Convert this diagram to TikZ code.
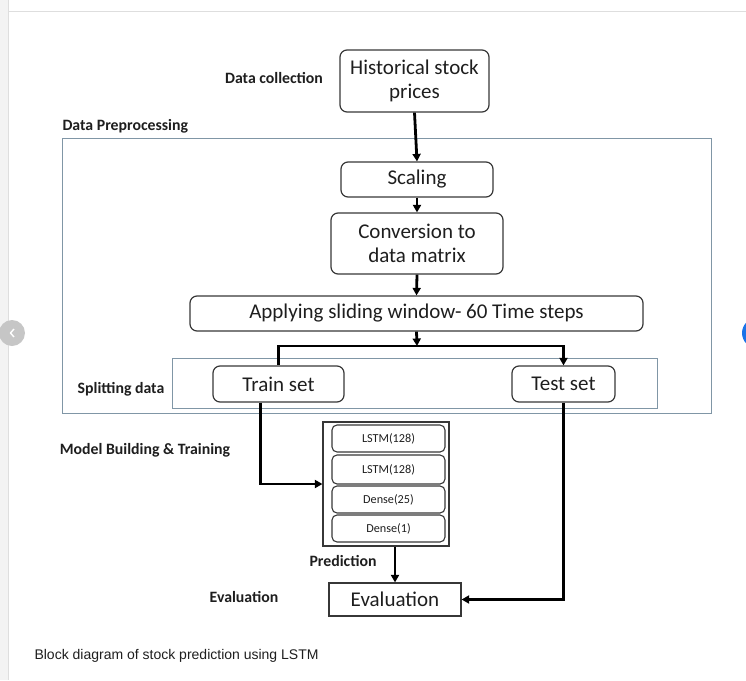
\documentclass[tikz,border=0pt]{standalone}
\usepackage{fontspec}
\setmainfont{Carlito}
\newfontfamily\captionfont{Liberation Sans}
\usetikzlibrary{arrows.meta,positioning}
\definecolor{boxGray}{RGB}{55,55,55}
\definecolor{frameBlue}{RGB}{128,150,166}
\definecolor{textDark}{RGB}{30,30,30}
\definecolor{pageGray}{RGB}{243,243,243}
\definecolor{ruleGray}{RGB}{222,222,222}
\definecolor{navBlue}{RGB}{26,115,232}

\begin{document}
\begin{tikzpicture}[
  x=1pt, y=-1pt,
  step box/.style={rectangle, rounded corners=7pt, draw=boxGray, line width=1.2pt,
                   align=center, text=textDark, font=\fontsize{21}{24.5}\selectfont},
  layer/.style={rectangle, rounded corners=5pt, draw=boxGray, line width=1.1pt,
                minimum width=113pt, text=textDark,
                font=\fontsize{12.2}{14}\selectfont},
  frame/.style={rectangle, draw=frameBlue, line width=0.9pt},
  tag/.style={font=\fontsize{15.8}{18}\selectfont\bfseries, text=textDark},
  arr/.style={-{Triangle[length=7.5pt,width=8pt]}, line width=2.8pt},
  line/.style={line width=2.8pt}
]
  \useasboundingbox (0,0) rectangle (746,680);
  % page chrome
  \fill[pageGray] (0,0) rectangle (8,680);
  \draw[ruleGray] (8,0) -- (8,680);
  \draw[ruleGray] (8,11) -- (746,11);
  \fill[gray!45] (12,333) circle (13pt);
  \draw[white, line width=1.4pt] (14,329) -- (10.5,333) -- (14,337);
  \fill[navBlue] (757,333) circle (15pt);

  % frames
  \node[frame, minimum width=649pt, minimum height=275pt] (prep) at (386.5,275.5) {};
  \node[frame, minimum width=485pt, minimum height=50pt] (splitbox) at (414.5,383) {};
  \node[rectangle, draw=boxGray, line width=1.2pt, minimum width=126pt,
        minimum height=124pt] (model) at (386,484) {};

  % boxes
  \node[step box, minimum width=149pt, minimum height=62pt] (hist) at (414.5,81)
    {Historical stock\\prices};
  \node[step box, minimum width=152pt, minimum height=35pt] (scal) at (417,179.5) {Scaling};
  \node[step box, minimum width=172pt, minimum height=61pt] (conv) at (417,243.5)
    {Conversion to\\data matrix};
  \node[step box, minimum width=453pt, minimum height=35pt] (slide) at (416.5,313.5)
    {Applying sliding window- 60 Time steps};
  \node[step box, minimum width=131pt, minimum height=36pt] (train) at (278.5,384) {Train set};
  \node[step box, minimum width=103pt, minimum height=36pt] (test) at (563.5,384) {Test set};
  \node[step box, rounded corners=0pt, minimum width=132pt, minimum height=33pt]
    (eval) at (395,599.5) {Evaluation};

  \node[layer, minimum height=27pt] (l1) at (388.5,438.5) {LSTM(128)};
  \node[layer, minimum height=29pt] (l2) at (388.5,469.5) {LSTM(128)};
  \node[layer, minimum height=27pt] (l3) at (388.5,499.5) {Dense(25)};
  \node[layer, minimum height=27pt] (l4) at (388.5,528.5) {Dense(1)};

  % stage labels
  \node[tag] (tcol) at (274,78) {Data collection};
  \node[tag, anchor=west] (tpre) at (59,126) {Data Preprocessing};
  \node[tag] (tspl) at (121,389) {Splitting data};
  \node[tag] (tmod) at (145,450) {Model Building \& Training};
  \node[tag] (tpred) at (343,561) {Prediction};
  \node[tag] (teval) at (244,597) {Evaluation};

  % connectors
  \coordinate (split) at (417,346);
  \foreach \a/\b in {hist/scal, scal/conv, conv/slide}
    \draw[arr] (\a.south) -- (\b.north);
  \draw[arr] (slide.south) -- (split);
  \draw[line] ([xshift=-2pt]split) -| (train.north);
  \draw[arr] ([xshift=-2pt]split) -| (test.north);
  \draw[arr] ([xshift=-18pt]train.south) |- (model.west);
  \draw[arr] (model.south -| eval.north) -- (eval.north);
  \draw[arr] (test.south) |- (eval.east);

  % caption
  \node[anchor=west, font=\captionfont\fontsize{14}{16}\selectfont, text=textDark]
    (cap) at (31,656) {Block diagram of stock prediction using LSTM};
\end{tikzpicture}
\end{document}
